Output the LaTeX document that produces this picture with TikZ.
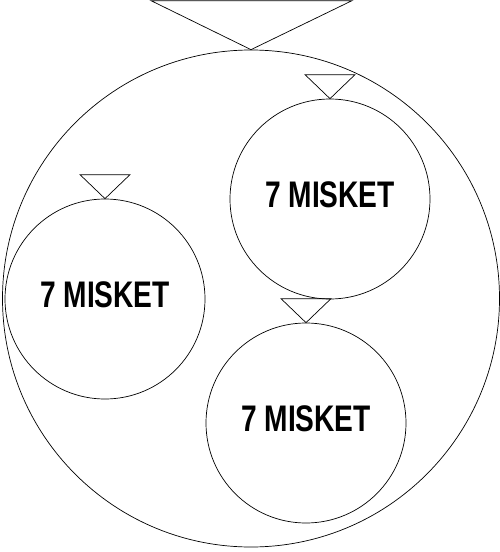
\documentclass[tikz,border=0pt]{standalone}
\usepackage{fontspec}
\setmainfont{Liberation Sans}
\usepackage{tikz}
\usetikzlibrary{calc}

\begin{document}
\begin{tikzpicture}[
    x=1pt, y=-1pt,
    ball/.style={draw, circle, inner sep=0pt, minimum size=#1, line width=0.7pt},
    ball/.default=200pt,
    lbl/.style={font=\fontsize{37}{37}\selectfont\bfseries, yshift=4pt},
    tri/.style={draw, line width=0.7pt},
]
\useasboundingbox (0,0) rectangle (500,552);

% Outer circle
\node[ball=497pt] (outer) at (251,298.5) {};

% Inner circles
\node[ball] (c1) at (330,199) {};
\node[ball] (c2) at (105,299) {};
\node[ball] (c3) at (306,423) {};

% Labels
\node[lbl] (t1) at (c1) {\scalebox{0.76}[1]{7 MISKET}};
\node[lbl] (t2) at (c2) {\scalebox{0.76}[1]{7 MISKET}};
\node[lbl] (t3) at (c3) {\scalebox{0.76}[1]{7 MISKET}};

% Triangle markers
\draw[tri] ($(outer.north)+(-100,-49)$) -- (outer.north) -- ($(outer.north)+(101,-49)$) -- cycle;
\draw[tri] ($(c1.north)+(-25,-24)$) -- (c1.north) -- ($(c1.north)+(25,-24)$) -- cycle;
\draw[tri] ($(c2.north)+(-25,-24)$) -- (c2.north) -- ($(c2.north)+(25,-24)$) -- cycle;
\draw[tri] ($(c3.north)+(-25,-24)$) -- (c3.north) -- ($(c3.north)+(25,-24)$) -- cycle;
\end{tikzpicture}
\end{document}
